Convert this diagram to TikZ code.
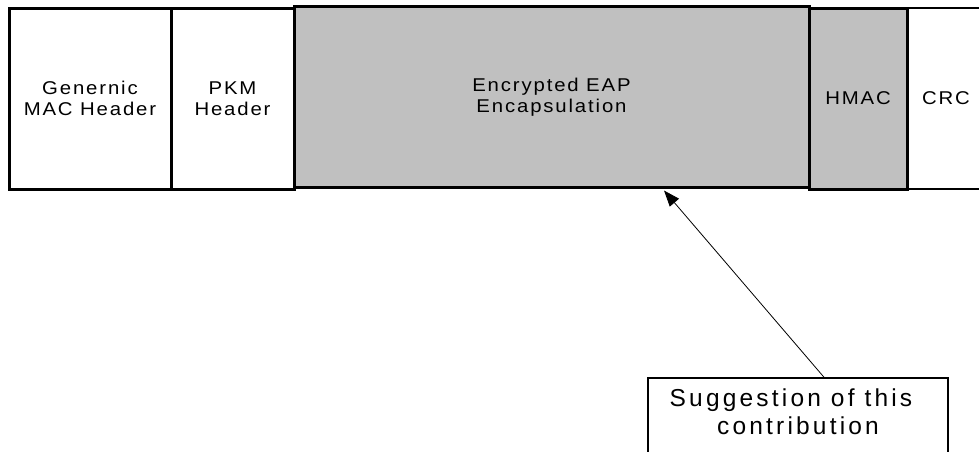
\documentclass[tikz,border=0pt]{standalone}
\usepackage{fontspec}
\setmainfont{Liberation Sans}
\newfontfamily\hdrfont[LetterSpace=10,FakeStretch=1.1]{Liberation Sans}
\newfontfamily\sugfont[LetterSpace=13]{Liberation Sans}
\usetikzlibrary{arrows.meta}
\definecolor{fieldgray}{HTML}{C0C0C0}
\begin{document}
\begin{tikzpicture}[x=1pt,y=-1pt,
  field/.style={draw=black, line width=3pt, minimum height=181pt, inner sep=0pt,
    align=center, font=\hdrfont\fontsize{18.5}{21}\selectfont},
  shaded/.style={field, fill=fieldgray},
  thinfield/.style={draw=black, line width=1.5pt, minimum height=181pt, inner sep=0pt,
    align=center, font=\hdrfont\fontsize{18.5}{21}\selectfont},
  sugbox/.style={draw=black, line width=1.5pt, minimum width=300pt, minimum height=120pt, inner sep=0pt},
  sugtext/.style={align=center, inner sep=0pt, font=\sugfont\fontsize{24.5}{28}\selectfont},
  pointer/.style={line width=0.8pt, -{Triangle[length=16pt,width=12pt]}}
]
\useasboundingbox (0,0) rectangle (979,451);
\begin{scope}
\clip (0,0) rectangle (979,451);
\node[thinfield, minimum width=78pt] (crc) at (946,98.5) {CRC};
\node[field, minimum width=162pt] (gmh) at (90,98.5) {Genernic\\MAC Header};
\node[field, minimum width=123pt] (pkm) at (232.5,98.5) {PKM\\Header};
\node[shaded, minimum width=515pt] (eap) at (551.5,97) {Encrypted EAP\\Encapsulation};
\node[shaded, minimum width=98pt] (hmac) at (858,98.5) {HMAC};
\node[sugbox] (sug) at (798,438) {};
\node[sugtext] (sugt) at (798,412) {Suggestion of this\hspace*{14pt}\\contribution};
\draw[pointer] ([xshift=26pt]sug.north) -- ([xshift=112.5pt,yshift=-1.5pt]eap.south);
\end{scope}
\end{tikzpicture}
\end{document}
